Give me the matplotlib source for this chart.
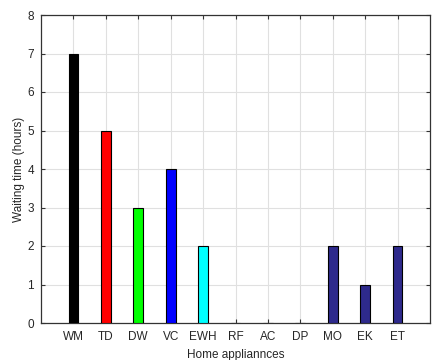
import matplotlib
matplotlib.use('Agg')
import matplotlib.pyplot as plt

appliances = ['WM', 'TD', 'DW', 'VC', 'EWH', 'RF', 'AC', 'DP', 'MO', 'EK', 'ET']
waiting_hours = [7, 5, 3, 4, 2, 0, 0, 0, 2, 1, 2]
bar_colors = ['#000000', '#ff0000', '#00ff00', '#0000ff', '#00ffff',
              '#800080', '#808000', '#1a1a5e', '#2e2a8c', '#2e2a8c', '#2e2a8c']

plt.rcParams['font.family'] = ['Liberation Sans', 'DejaVu Sans']

fig = plt.figure(figsize=(4.32, 3.6), dpi=100)
ax = fig.add_axes([41 / 432, 1 - 323 / 360, 389 / 432, 308 / 360])

pos = list(range(1, len(appliances) + 1))
ax.bar(pos, waiting_hours, width=0.3, color=bar_colors, edgecolor='black',
       linewidth=0.8, zorder=3)

ax.set_xlim(0, 12)
ax.set_ylim(0, 8)
ax.set_xticks(pos)
ax.set_xticklabels(appliances)
ax.set_yticks(range(0, 9))

ax.grid(True, color='#e0e0e0', linewidth=0.8, zorder=0)
ax.tick_params(direction='in', top=True, right=True, length=3,
               labelsize=8.5, color='#333333', labelcolor='#262626', width=0.8)
ax.tick_params(axis='x', pad=6)
ax.tick_params(axis='y', pad=5)
for s in ax.spines.values():
    s.set_color('#333333')
    s.set_linewidth(0.9)

ax.set_xlabel('Home appliannces', fontsize=8.5, labelpad=4, color='#262626')
ax.set_ylabel('Waiting time (hours)', fontsize=8.5, labelpad=2, color='#262626')

fig.savefig('out.png', dpi=100)
